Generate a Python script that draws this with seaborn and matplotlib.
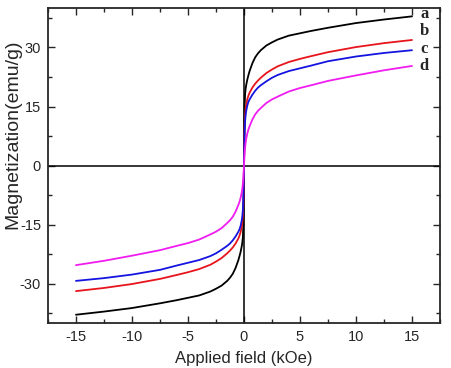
import numpy as np
import pandas as pd
import matplotlib
matplotlib.use("Agg")
import matplotlib.pyplot as plt
from matplotlib.ticker import MultipleLocator
import seaborn as sns

# Data (positive branch; loop is antisymmetric)
field_pos = [0, 0.02, 0.04, 0.06, 0.1, 0.15, 0.2, 0.3, 0.4, 0.5, 0.75, 1, 1.25, 1.5,
             2, 2.5, 3, 4, 5, 6, 7.5, 10, 12.5, 15]
mag_a_pos = [0, 7, 12.5, 15.5, 18.2, 19.6, 20.5, 21.9, 23, 24, 26, 27.5, 28.5, 29.3,
             30.5, 31.3, 32, 33, 33.6, 34.2, 35, 36.2, 37.1, 37.9]
mag_b_pos = [0, 4, 7.5, 10, 12.8, 14.5, 15.5, 16.9, 17.8, 18.5, 19.8, 20.8, 21.6, 22.3,
             23.5, 24.4, 25.2, 26.3, 27.1, 27.8, 28.8, 30.1, 31.1, 31.9]
mag_c_pos = [0, 3.3, 6.3, 8.6, 11.3, 12.9, 13.9, 15.3, 16.2, 16.8, 18, 19, 19.8, 20.4,
             21.4, 22.3, 23, 24, 24.7, 25.4, 26.5, 27.7, 28.6, 29.3]
mag_d_pos = [0, 1.2, 2.2, 3.2, 4.6, 5.9, 6.8, 8.2, 9.2, 10, 11.7, 13, 13.9, 14.6,
             15.9, 16.8, 17.5, 18.8, 19.7, 20.4, 21.5, 22.9, 24.2, 25.3]

sample_labels = ["a", "b", "c", "d"]
colors = ["#000000", "#e8141c", "#1414e0", "#f01cf0"]
label_y = [38.6, 34.1, 29.7, 25.3]

sns.set_style("ticks")
plt.rcParams["font.family"] = ["Liberation Sans", "DejaVu Sans"]
plt.rcParams["axes.unicode_minus"] = False

rows = []
for lab, mp in zip(sample_labels, [mag_a_pos, mag_b_pos, mag_c_pos, mag_d_pos]):
    fields = [-f for f in field_pos[::-1]] + field_pos[1:]
    mags = [-m for m in mp[::-1]] + mp[1:]
    for f, m in zip(fields, mags):
        rows.append({"field": f, "mag": m, "sample": lab})
df = pd.DataFrame(rows)

fig = plt.figure(figsize=(4.51, 3.68), dpi=100)
ax = fig.add_axes([0.1064, 0.1223, 0.8692, 0.8557])

ax.axhline(0, color="black", lw=1.1, zorder=1)
ax.axvline(0, color="black", lw=1.1, zorder=1)

sns.lineplot(data=df, x="field", y="mag", hue="sample", palette=colors,
             hue_order=sample_labels, sort=False, estimator=None,
             lw=1.3, legend=False, ax=ax, zorder=3)

ax.set_xlim(-17.5, 17.5)
ax.set_ylim(-40, 40)
ax.xaxis.set_major_locator(MultipleLocator(5))
ax.xaxis.set_minor_locator(MultipleLocator(2.5))
ax.yaxis.set_major_locator(MultipleLocator(15))
ax.yaxis.set_minor_locator(MultipleLocator(7.5))
ax.tick_params(which="both", direction="in", top=True, right=True,
               labelsize=10.5, width=1.0, pad=5)
ax.tick_params(which="major", length=5)
ax.tick_params(which="minor", length=3)
for s in ax.spines.values():
    s.set_linewidth(1.3)

ax.set_xlabel("Applied field (kOe)", fontsize=12, labelpad=5)
ax.set_ylabel("Magnetization(emu/g)", fontsize=14)
ax.yaxis.set_label_coords(-0.068, 0.60)

for lab, yy in zip(sample_labels, label_y):
    ax.text(16.1, yy, lab, fontsize=12, fontweight="bold",
            family=["Liberation Serif", "DejaVu Serif"], ha="center", va="center")

fig.savefig("out.png", dpi=100)
